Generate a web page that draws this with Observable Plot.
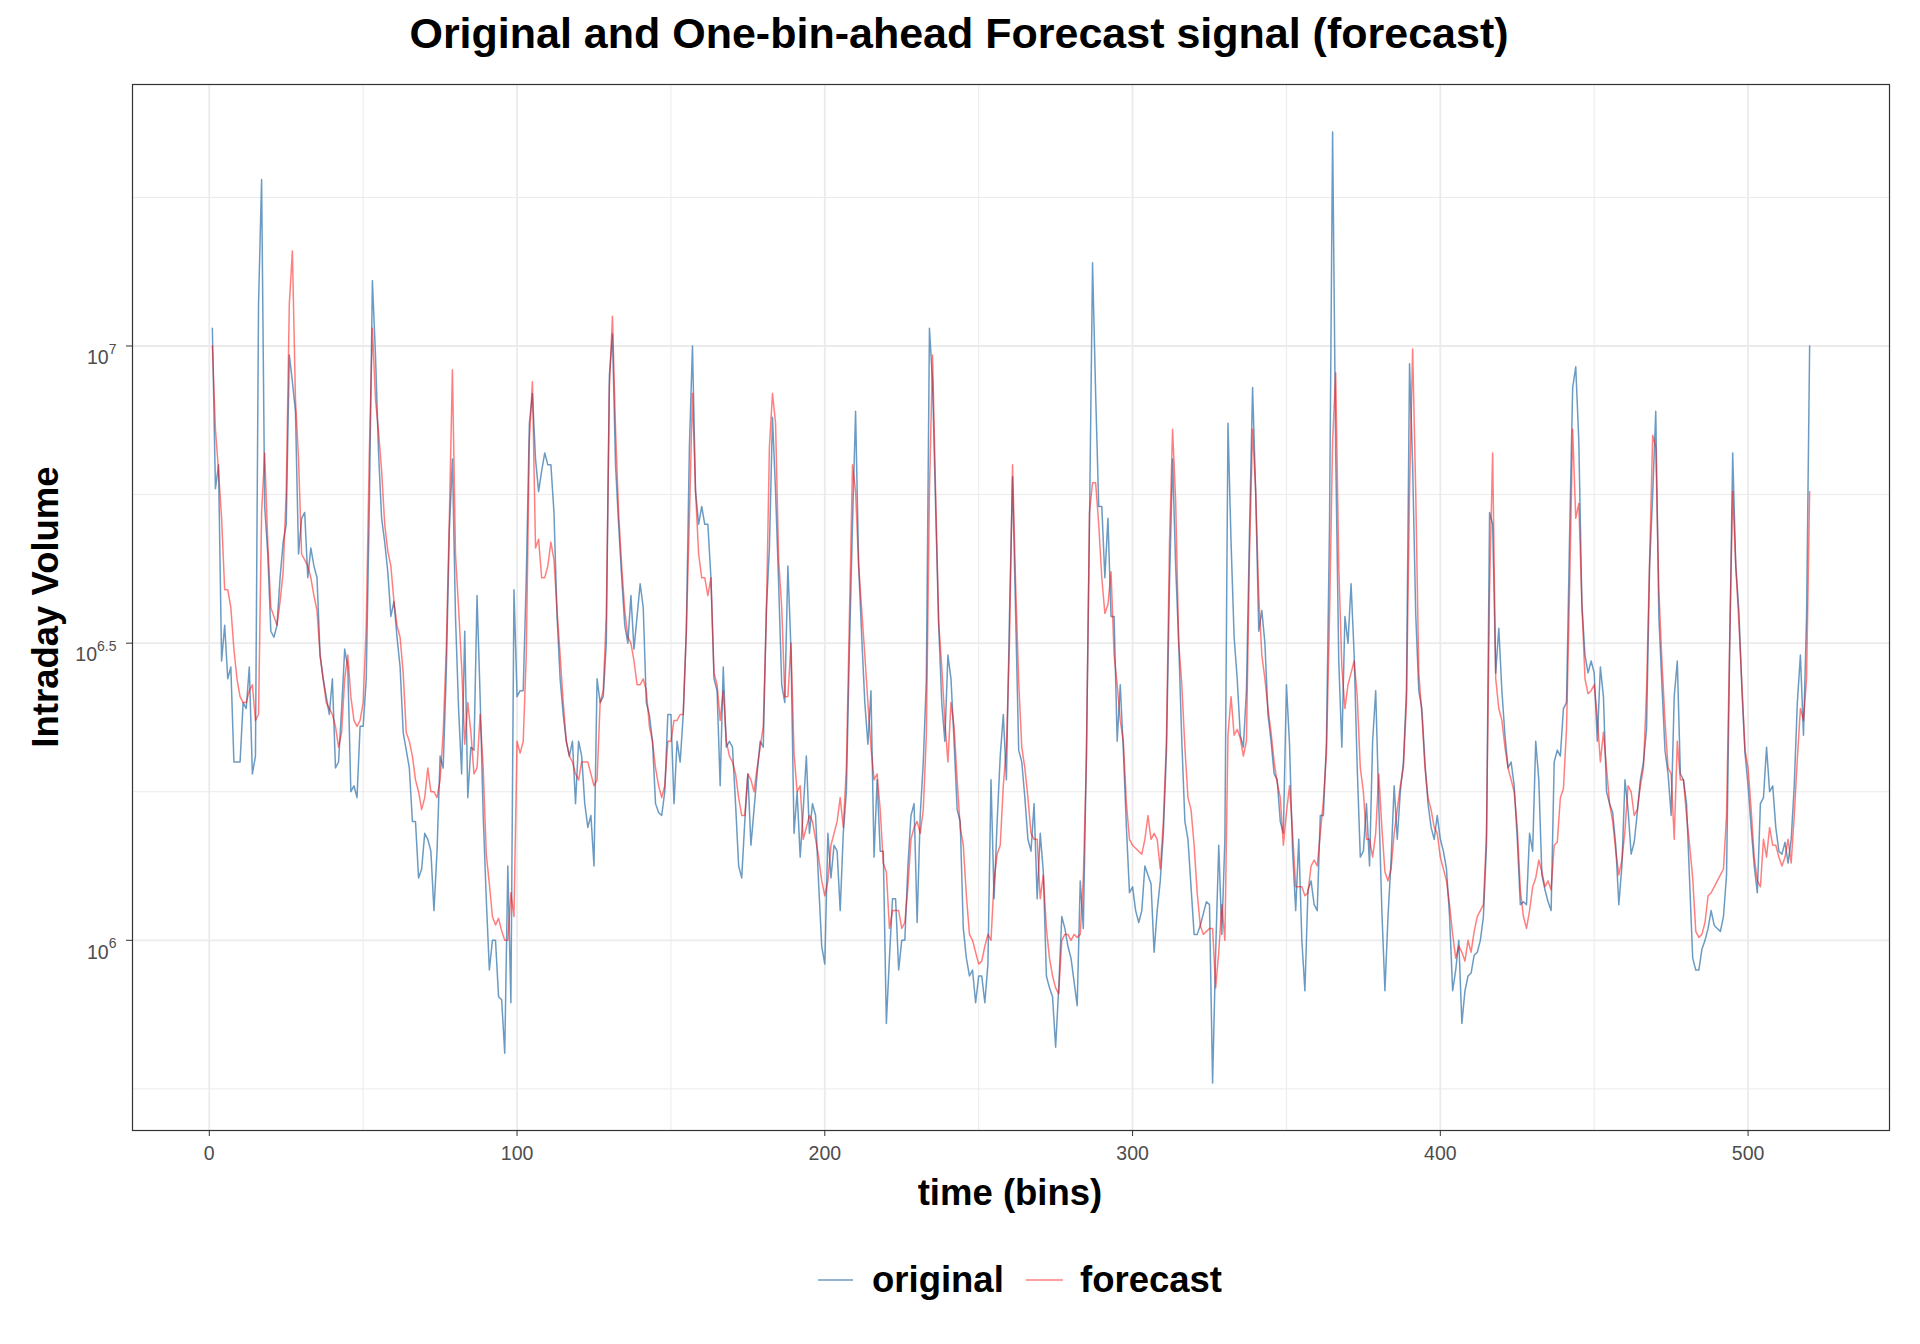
<!DOCTYPE html>
<html>
<head>
<meta charset="utf-8">
<script src="https://cdn.jsdelivr.net/npm/d3@7"></script>
<script src="https://cdn.jsdelivr.net/npm/@observablehq/plot@0.6"></script>
<style>
  html, body { margin: 0; padding: 0; background: #ffffff; }
  #wrap { position: relative; width: 1920px; height: 1344px; overflow: hidden; }
</style>
</head>
<body>
<div id="wrap"></div>
<script>
// ---- text ----
const titleText = "Original and One-bin-ahead Forecast signal (forecast)";
const xTitle = "time (bins)";
const yTitle = "Intraday Volume";
const seriesNames = ["original", "forecast"];

// ---- ticks ----
const xTicks = [0, 100, 200, 300, 400, 500];
const xMinor = [50, 150, 250, 350, 450];
const yTicks = [6, 6.5, 7];              // exponents of 10
const yTickLabels = ["6", "6.5", "7"];
const yMinor = [5.75, 6.25, 6.75, 7.25];

// ---- series values: log10 of intraday volume, bins 1..520 ----
const original = [
7.03,6.76,6.80,6.47,6.53,6.44,6.46,6.30,6.30,6.30,
6.40,6.39,6.46,6.28,6.31,7.07,7.28,6.73,6.65,6.52,
6.51,6.53,6.61,6.67,6.70,6.985,6.94,6.89,6.65,6.71,
6.72,6.61,6.66,6.63,6.61,6.48,6.44,6.41,6.38,6.44,
6.29,6.30,6.39,6.49,6.46,6.25,6.26,6.24,6.36,6.36,
6.44,6.73,7.11,6.985,6.82,6.71,6.67,6.62,6.545,6.57,
6.51,6.46,6.35,6.32,6.29,6.20,6.20,6.105,6.12,6.18,
6.17,6.15,6.05,6.15,6.31,6.29,6.45,6.69,6.81,6.545,
6.39,6.28,6.52,6.24,6.325,6.32,6.58,6.41,6.21,6.07,
5.95,6.0,6.0,5.905,5.90,5.81,6.125,5.895,6.59,6.41,
6.42,6.42,6.61,6.87,6.92,6.81,6.755,6.79,6.82,6.80,
6.80,6.72,6.545,6.44,6.38,6.335,6.31,6.335,6.23,6.335,
6.31,6.23,6.19,6.21,6.125,6.44,6.40,6.41,6.50,6.95,
7.02,6.80,6.70,6.61,6.53,6.50,6.58,6.49,6.545,6.60,
6.56,6.40,6.38,6.335,6.23,6.215,6.21,6.25,6.38,6.38,
6.23,6.335,6.30,6.38,6.52,6.83,7.0,6.755,6.70,6.73,
6.70,6.70,6.61,6.44,6.42,6.26,6.46,6.325,6.335,6.325,
6.23,6.125,6.105,6.20,6.28,6.16,6.22,6.28,6.335,6.325,
6.555,6.66,6.88,6.755,6.60,6.43,6.40,6.63,6.49,6.18,
6.25,6.14,6.22,6.31,6.18,6.23,6.21,6.095,5.99,5.96,
6.18,6.105,6.16,6.15,6.05,6.18,6.25,6.49,6.70,6.89,
6.63,6.51,6.40,6.33,6.42,6.14,6.27,6.15,6.15,5.86,
5.97,6.07,6.07,5.95,6.0,6.0,6.125,6.21,6.23,6.03,
6.21,6.30,6.44,7.03,6.94,6.73,6.53,6.40,6.335,6.48,
6.44,6.335,6.22,6.20,6.02,5.97,5.94,5.95,5.895,5.94,
5.94,5.895,5.96,6.27,6.07,6.20,6.31,6.38,6.27,6.545,
6.78,6.55,6.32,6.30,6.24,6.17,6.15,6.23,6.07,6.18,
6.115,5.94,5.92,5.905,5.82,5.92,6.04,6.02,5.99,5.97,
5.93,5.89,6.10,6.02,6.31,6.70,7.14,6.92,6.73,6.73,
6.61,6.71,6.545,6.545,6.335,6.43,6.32,6.19,6.08,6.09,
6.05,6.03,6.05,6.125,6.11,6.095,5.98,6.05,6.10,6.18,
6.315,6.60,6.81,6.63,6.50,6.335,6.20,6.17,6.09,6.01,
6.01,6.025,6.045,6.065,6.06,5.76,5.98,6.16,6.01,6.17,
6.87,6.67,6.51,6.44,6.345,6.325,6.42,6.69,6.93,6.755,
6.52,6.555,6.50,6.38,6.335,6.28,6.27,6.20,6.18,6.43,
6.33,6.15,6.05,6.17,6.0,5.915,6.085,6.10,6.06,6.05,
6.21,6.21,6.335,6.70,7.36,6.82,6.47,6.325,6.545,6.50,
6.60,6.48,6.29,6.14,6.15,6.23,6.125,6.335,6.42,6.23,
6.05,5.915,6.04,6.135,6.26,6.17,6.25,6.30,6.42,6.97,
6.80,6.55,6.42,6.39,6.30,6.23,6.19,6.17,6.21,6.17,
6.15,6.12,6.04,5.915,5.95,6.0,5.86,5.915,5.94,5.945,
5.975,5.98,6.0,6.04,6.16,6.72,6.70,6.45,6.525,6.42,
6.345,6.29,6.30,6.26,6.17,6.06,6.065,6.06,6.18,6.15,
6.335,6.27,6.11,6.085,6.065,6.05,6.30,6.32,6.31,6.39,
6.40,6.68,6.93,6.965,6.84,6.565,6.48,6.45,6.47,6.45,
6.335,6.46,6.41,6.25,6.23,6.215,6.16,6.06,6.125,6.27,
6.22,6.145,6.165,6.215,6.27,6.30,6.355,6.63,6.75,6.89,
6.545,6.43,6.32,6.28,6.21,6.41,6.47,6.28,6.27,6.23,
6.10,5.97,5.95,5.95,5.985,6.0,6.02,6.05,6.025,6.02,
6.015,6.04,6.11,6.48,6.82,6.63,6.555,6.42,6.315,6.26,
6.19,6.125,6.08,6.23,6.24,6.325,6.25,6.26,6.19,6.15,
6.145,6.165,6.13,6.17,6.26,6.40,6.48,6.345,6.545,7.0
];

const forecast = [
7.0,6.86,6.79,6.71,6.59,6.59,6.56,6.49,6.44,6.41,
6.40,6.40,6.42,6.43,6.37,6.38,6.72,6.82,6.67,6.56,
6.545,6.53,6.57,6.62,6.755,7.07,7.16,6.91,6.81,6.65,
6.64,6.63,6.61,6.58,6.555,6.48,6.44,6.40,6.39,6.38,
6.36,6.325,6.35,6.44,6.48,6.41,6.37,6.36,6.37,6.40,
6.53,6.82,7.03,6.91,6.855,6.79,6.70,6.655,6.63,6.57,
6.53,6.51,6.45,6.35,6.335,6.31,6.27,6.25,6.22,6.24,
6.29,6.25,6.25,6.24,6.27,6.35,6.49,6.71,6.96,6.65,
6.56,6.46,6.33,6.40,6.35,6.28,6.29,6.38,6.29,6.145,
6.095,6.04,6.026,6.037,6.016,6.0,6.0,6.08,6.04,6.335,
6.315,6.335,6.48,6.84,6.94,6.66,6.675,6.61,6.61,6.63,
6.67,6.64,6.555,6.48,6.40,6.335,6.31,6.30,6.28,6.27,
6.30,6.30,6.30,6.28,6.26,6.27,6.40,6.42,6.545,6.93,
7.05,6.86,6.72,6.63,6.555,6.51,6.50,6.47,6.43,6.43,
6.44,6.42,6.36,6.335,6.29,6.26,6.24,6.26,6.335,6.335,
6.37,6.37,6.38,6.38,6.52,6.71,6.92,6.755,6.65,6.61,
6.61,6.58,6.61,6.45,6.43,6.37,6.42,6.335,6.31,6.30,
6.28,6.24,6.21,6.21,6.28,6.27,6.25,6.29,6.325,6.36,
6.545,6.83,6.92,6.87,6.64,6.56,6.41,6.41,6.50,6.315,
6.25,6.26,6.17,6.19,6.21,6.20,6.17,6.14,6.10,6.075,
6.10,6.16,6.18,6.20,6.24,6.19,6.29,6.545,6.80,6.755,
6.63,6.555,6.48,6.40,6.325,6.27,6.28,6.22,6.13,6.115,
6.02,6.05,6.05,6.05,6.02,6.03,6.09,6.17,6.19,6.20,
6.18,6.22,6.345,6.755,6.985,6.755,6.535,6.46,6.37,6.30,
6.40,6.36,6.27,6.19,6.16,6.075,6.01,6.0,5.98,5.96,
5.965,5.99,6.01,6.0,6.10,6.145,6.16,6.26,6.325,6.50,
6.80,6.60,6.435,6.325,6.29,6.24,6.18,6.17,6.17,6.07,
6.11,6.02,5.97,5.94,5.92,5.91,6.0,6.01,6.01,6.0,
6.01,6.005,6.01,6.105,6.305,6.72,6.77,6.77,6.70,6.61,
6.55,6.565,6.62,6.48,6.43,6.37,6.335,6.23,6.17,6.16,
6.155,6.15,6.145,6.17,6.21,6.17,6.18,6.17,6.12,6.20,
6.335,6.67,6.86,6.74,6.50,6.43,6.325,6.24,6.22,6.16,
6.08,6.025,6.01,6.015,6.02,6.02,5.92,5.98,6.06,6.0,
6.345,6.41,6.345,6.355,6.34,6.31,6.335,6.65,6.86,6.755,
6.58,6.48,6.44,6.39,6.35,6.30,6.265,6.24,6.16,6.215,
6.26,6.18,6.09,6.09,6.09,6.075,6.08,6.125,6.135,6.125,
6.18,6.235,6.315,6.545,6.84,6.955,6.63,6.46,6.39,6.43,
6.45,6.47,6.41,6.29,6.25,6.17,6.17,6.14,6.18,6.28,
6.19,6.115,6.10,6.12,6.18,6.22,6.26,6.29,6.40,6.755,
6.995,6.755,6.45,6.38,6.29,6.24,6.22,6.19,6.18,6.14,
6.12,6.10,6.06,6.01,5.97,5.99,5.98,5.965,6.0,5.98,
6.015,6.04,6.05,6.06,6.18,6.59,6.82,6.44,6.39,6.37,
6.325,6.29,6.27,6.25,6.19,6.085,6.04,6.02,6.05,6.09,
6.105,6.135,6.115,6.09,6.10,6.085,6.16,6.165,6.24,6.255,
6.355,6.59,6.86,6.71,6.735,6.565,6.44,6.415,6.42,6.43,
6.375,6.30,6.35,6.29,6.23,6.20,6.15,6.11,6.135,6.185,
6.26,6.25,6.21,6.22,6.26,6.29,6.42,6.64,6.85,6.83,
6.59,6.47,6.37,6.29,6.28,6.17,6.335,6.27,6.27,6.21,
6.16,6.105,6.015,6.005,6.01,6.03,6.075,6.08,6.09,6.10,
6.11,6.12,6.21,6.50,6.755,6.63,6.535,6.43,6.32,6.29,
6.22,6.14,6.10,6.09,6.17,6.14,6.19,6.16,6.16,6.14,
6.125,6.14,6.17,6.13,6.21,6.305,6.39,6.37,6.44,6.755
];

// ---- colours ----
const colOriginal = "steelblue";
const colForecast = "red";

// table for the library
const rows = original.map((v, i) => ({ t: i + 1, original: v, forecast: forecast[i] }));

const FONT = "'Liberation Sans', Arial, Helvetica, sans-serif";

const chart = Plot.plot({
  width: 1920,
  height: 1344,
  marginTop: 84,
  marginBottom: 214,
  marginLeft: 132,
  marginRight: 31,
  style: { background: "#ffffff", fontFamily: FONT, fontSize: "19.5px", overflow: "visible" },
  x: { domain: [-24.95, 545.95] },
  y: { domain: [5.68, 7.44] },
  marks: [
    Plot.gridX(xMinor, { stroke: "#EBEBEB", strokeOpacity: 1, strokeWidth: 1 }),
    Plot.gridY(yMinor, { stroke: "#EBEBEB", strokeOpacity: 1, strokeWidth: 1 }),
    Plot.gridX(xTicks, { stroke: "#EBEBEB", strokeOpacity: 1, strokeWidth: 1.8 }),
    Plot.gridY(yTicks, { stroke: "#EBEBEB", strokeOpacity: 1, strokeWidth: 1.8 }),
    Plot.line(rows, { x: "t", y: "original", stroke: colOriginal, strokeOpacity: 0.8, strokeWidth: 1.5 }),
    Plot.line(rows, { x: "t", y: "forecast", stroke: colForecast, strokeOpacity: 0.5, strokeWidth: 1.5 }),
    Plot.frame({ stroke: "#333333", strokeWidth: 1.2 }),
    Plot.axisX(xTicks, { tickSize: 6, tickPadding: 10, fill: "#4D4D4D", stroke: "#333333", label: null, fontSize: 19.5 }),
    Plot.axisY(yTicks, { tickSize: 6, tickPadding: 10, fill: "#4D4D4D", stroke: "#333333", label: null, fontSize: 19.5, tickFormat: () => "10" })
  ]
});

document.getElementById("wrap").appendChild(chart);

const svg = d3.select(chart);

// superscript exponents on y tick labels
svg.selectAll('g[aria-label="y-axis tick label"] text').each(function (d, i) {
  const t = d3.select(this);
  t.text(null).attr("dy", "0.62em");
  t.append("tspan").text("10");
  t.append("tspan").attr("font-size", "14px").attr("dy", "-0.75em").text(yTickLabels[i]);
});

// title
svg.append("text")
  .attr("x", 959).attr("y", 47.5)
  .attr("text-anchor", "middle")
  .attr("font-family", FONT).attr("font-weight", "bold").attr("font-size", 43)
  .attr("fill", "#000000")
  .text(titleText);

// x axis title
svg.append("text")
  .attr("x", 1010).attr("y", 1204.5)
  .attr("text-anchor", "middle")
  .attr("font-family", FONT).attr("font-weight", "bold").attr("font-size", 36.5)
  .attr("fill", "#000000")
  .text(xTitle);

// y axis title
svg.append("text")
  .attr("transform", "translate(58.4,607) rotate(-90)")
  .attr("text-anchor", "middle")
  .attr("font-family", FONT).attr("font-weight", "bold").attr("font-size", 36.5)
  .attr("fill", "#000000")
  .text(yTitle);

// legend
const legend = svg.append("g").attr("aria-label", "legend").attr("text-anchor", "start");
const legendItems = [
  { name: seriesNames[0], color: colOriginal, op: 0.8, x0: 818, x1: 853, tx: 872 },
  { name: seriesNames[1], color: colForecast, op: 0.5, x0: 1026, x1: 1063, tx: 1080 }
];
legendItems.forEach(it => {
  legend.append("line")
    .attr("x1", it.x0).attr("x2", it.x1).attr("y1", 1280).attr("y2", 1280)
    .attr("stroke", it.color).attr("stroke-opacity", it.op).attr("stroke-width", 1.6);
  legend.append("text")
    .attr("x", it.tx).attr("y", 1292)
    .attr("text-anchor", "start")
    .attr("font-family", FONT).attr("font-weight", "bold").attr("font-size", 36.5)
    .attr("fill", "#000000")
    .text(it.name);
});
</script>
</body>
</html>
